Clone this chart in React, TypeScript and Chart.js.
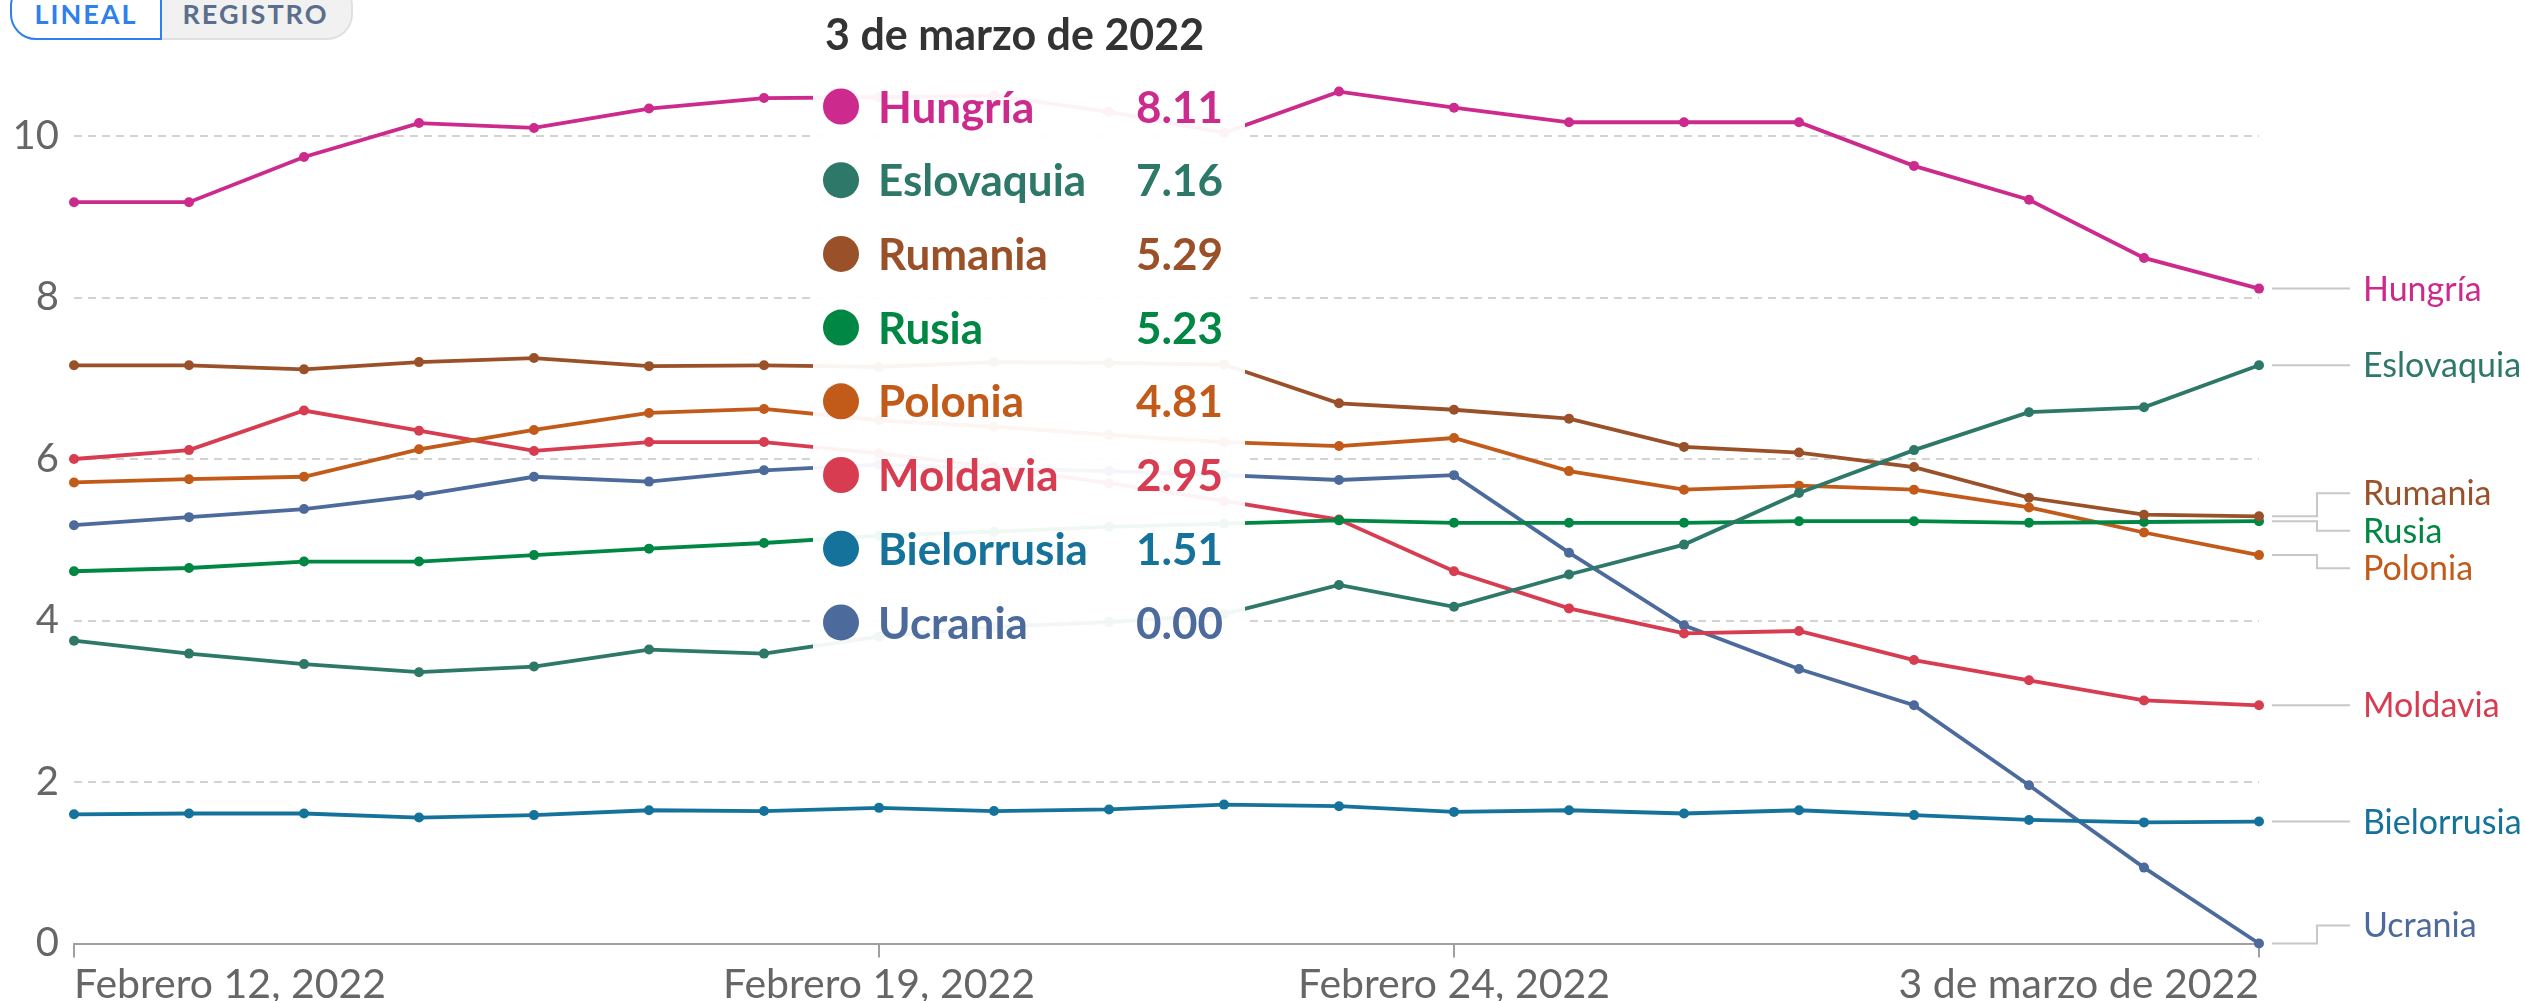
import React, { useEffect, useRef } from 'react';
import { Chart, registerables } from 'chart.js';

Chart.register(...registerables);

const dates = [
  '2022-02-12', '2022-02-13', '2022-02-14', '2022-02-15', '2022-02-16',
  '2022-02-17', '2022-02-18', '2022-02-19', '2022-02-20', '2022-02-21',
  '2022-02-22', '2022-02-23', '2022-02-24', '2022-02-25', '2022-02-26',
  '2022-02-27', '2022-02-28', '2022-03-01', '2022-03-02', '2022-03-03',
];
const tickIndices = [0, 7, 12, 19];
const tickLabels = ['Febrero 12, 2022', 'Febrero 19, 2022', 'Febrero 24, 2022', '3 de marzo de 2022'];
const yTicks = [0, 2, 4, 6, 8, 10];
const tooltipTitle = '3 de marzo de 2022';

const countries = ['Hungría', 'Eslovaquia', 'Rumania', 'Rusia', 'Polonia', 'Moldavia', 'Bielorrusia', 'Ucrania'];
const colors = ['#CC2A8C', '#2D7869', '#9A5129', '#008744', '#C25A1A', '#D73C50', '#15739B', '#4C6A9C'];

const hungria = [9.18, 9.18, 9.74, 10.16, 10.10, 10.34, 10.47, 10.48, 10.50, 10.30, 10.04, 10.55, 10.35, 10.17, 10.17, 10.17, 9.63, 9.21, 8.49, 8.11];
const eslovaquia = [3.75, 3.59, 3.46, 3.36, 3.43, 3.64, 3.59, 3.80, 3.92, 3.98, 4.08, 4.44, 4.17, 4.57, 4.94, 5.58, 6.11, 6.58, 6.64, 7.16];
const rumania = [7.16, 7.16, 7.11, 7.20, 7.25, 7.15, 7.16, 7.14, 7.20, 7.19, 7.17, 6.69, 6.61, 6.50, 6.15, 6.08, 5.90, 5.52, 5.31, 5.29];
const rusia = [4.61, 4.65, 4.73, 4.73, 4.81, 4.89, 4.96, 5.05, 5.10, 5.16, 5.20, 5.24, 5.21, 5.21, 5.21, 5.23, 5.23, 5.21, 5.22, 5.23];
const polonia = [5.71, 5.75, 5.78, 6.12, 6.36, 6.57, 6.62, 6.48, 6.40, 6.30, 6.21, 6.16, 6.26, 5.85, 5.62, 5.67, 5.62, 5.40, 5.09, 4.81];
const moldavia = [6.00, 6.11, 6.60, 6.35, 6.10, 6.21, 6.21, 6.07, 5.90, 5.70, 5.48, 5.25, 4.61, 4.15, 3.84, 3.87, 3.51, 3.26, 3.01, 2.95];
const bielorrusia = [1.60, 1.61, 1.61, 1.56, 1.59, 1.65, 1.64, 1.68, 1.64, 1.66, 1.72, 1.70, 1.63, 1.65, 1.61, 1.65, 1.59, 1.53, 1.50, 1.51];
const ucrania = [5.18, 5.28, 5.38, 5.55, 5.78, 5.72, 5.86, 5.93, 5.88, 5.85, 5.80, 5.74, 5.80, 4.84, 3.94, 3.40, 2.95, 1.96, 0.94, 0.00];

const seriesValues = [hungria, eslovaquia, rumania, rusia, polonia, moldavia, bielorrusia, ucrania];

const W = 2525;
const H = 1001;
const FONT = 'Lato, "Noto Sans", sans-serif';

const endLabelPlugin = {
  id: 'endLabels',
  afterDatasetsDraw(chart: any) {
    const { ctx, chartArea, scales } = chart;
    const y = scales.y;
    const lh = 37.5;
    const last = dates.length - 1;
    const items = countries
      .map((name, i) => {
        const py = y.getPixelForValue(seriesValues[i][last]);
        return { name, color: colors[i], py, ly: py };
      })
      .sort((a, b) => a.py - b.py);
    let groups: any[] = items.map((it) => ({ members: [it], center: it.py }));
    let changed = true;
    while (changed) {
      changed = false;
      for (let k = 0; k < groups.length - 1; k++) {
        const a = groups[k];
        const b = groups[k + 1];
        const aBottom = a.center + (a.members.length * lh) / 2;
        const bTop = b.center - (b.members.length * lh) / 2;
        if (aBottom > bTop) {
          const members = a.members.concat(b.members);
          const center = members.reduce((s: number, m: any) => s + m.py, 0) / members.length;
          groups.splice(k, 2, { members, center });
          changed = true;
          break;
        }
      }
    }
    groups.forEach((g) => {
      let top = g.center - (g.members.length * lh) / 2;
      const bottomLimit = chartArea.bottom + 0.75;
      if (top + g.members.length * lh > bottomLimit) top = bottomLimit - g.members.length * lh;
      g.members.forEach((m: any, j: number) => {
        m.ly = top + lh * j + lh / 2;
      });
    });
    const x0 = chartArea.right + 13;
    const bend = x0 + 45;
    const x1 = chartArea.right + 91;
    ctx.save();
    ctx.strokeStyle = '#c8c8c8';
    ctx.lineWidth = 2;
    items.forEach((m) => {
      ctx.beginPath();
      ctx.moveTo(x0, m.py);
      if (Math.abs(m.ly - m.py) > 1) {
        ctx.lineTo(bend, m.py);
        ctx.lineTo(bend, m.ly);
      }
      ctx.lineTo(x1, m.ly);
      ctx.stroke();
    });
    ctx.font = `34px ${FONT}`;
    ctx.textBaseline = 'middle';
    ctx.textAlign = 'left';
    items.forEach((m) => {
      ctx.fillStyle = m.color;
      ctx.fillText(m.name, chartArea.right + 104, m.ly + 1);
    });
    ctx.restore();
  },
};

const tooltipPlugin = {
  id: 'fixedTooltip',
  afterDraw(chart: any) {
    const { ctx } = chart;
    const last = dates.length - 1;
    ctx.save();
    ctx.fillStyle = 'rgba(255,255,255,0.94)';
    ctx.fillRect(813, 0, 432, 668);
    ctx.fillStyle = '#333';
    ctx.font = `bold 43px ${FONT}`;
    ctx.textBaseline = 'alphabetic';
    ctx.textAlign = 'left';
    ctx.fillText(tooltipTitle, 825, 50);
    const order = countries
      .map((name, i) => ({ name, color: colors[i], v: seriesValues[i][last] }))
      .sort((a, b) => b.v - a.v);
    order.forEach((row, k) => {
      const cy = 106.5 + 73.7 * k;
      ctx.fillStyle = row.color;
      ctx.beginPath();
      ctx.arc(841, cy, 18, 0, Math.PI * 2);
      ctx.fill();
      ctx.font = `bold 44px ${FONT}`;
      ctx.textBaseline = 'middle';
      ctx.textAlign = 'left';
      ctx.fillText(row.name, 878, cy + 2);
      ctx.textAlign = 'right';
      ctx.fillText(row.v.toFixed(2), 1223, cy + 2);
    });
    ctx.restore();
  },
};

export default function App() {
  const ref = useRef<HTMLCanvasElement>(null);
  useEffect(() => {
    document.body.style.margin = '0';
    document.body.style.overflow = 'hidden';
    const canvas = ref.current;
    if (!canvas) return;
    const yMax = 10.6;
    const chart = new Chart(canvas, {
      type: 'line',
      data: {
        labels: dates,
        datasets: countries.map((name, i) => ({
          label: name,
          data: seriesValues[i],
          borderColor: colors[i],
          backgroundColor: colors[i],
          pointBackgroundColor: colors[i],
          pointBorderColor: colors[i],
          borderWidth: 3.8,
          pointRadius: 5,
          pointHoverRadius: 5,
          pointBorderWidth: 0,
          tension: 0,
          clip: false as any,
        })),
      },
      options: {
        responsive: false,
        animation: false,
        events: [],
        layout: { padding: { left: 0, right: W - 2259, top: 943.5 - 80.75 * yMax, bottom: 0 } },
        plugins: {
          legend: { display: false },
          tooltip: { enabled: false },
        },
        scales: {
          x: {
            type: 'category',
            offset: false,
            afterBuildTicks: (scale: any) => {
              scale.ticks = tickIndices.map((v) => ({ value: v }));
            },
            afterFit: (scale: any) => {
              scale.height = H - 943.5;
            },
            grid: {
              display: true,
              drawOnChartArea: false,
              drawTicks: true,
              tickLength: 14,
              color: '#a0a0a0',
              lineWidth: 2,
              offset: false,
            },
            border: { display: true, color: '#a0a0a0', width: 2 },
            ticks: {
              autoSkip: false,
              maxRotation: 0,
              minRotation: 0,
              align: 'inner',
              padding: 3,
              color: '#666',
              font: { family: FONT, size: 41 },
              callback: (value: any) => {
                const idx = tickIndices.indexOf(Number(value));
                return idx >= 0 ? tickLabels[idx] : '';
              },
            },
          },
          y: {
            type: 'linear',
            min: 0,
            max: yMax,
            afterBuildTicks: (scale: any) => {
              scale.ticks = yTicks.map((v) => ({ value: v }));
            },
            afterFit: (scale: any) => {
              scale.width = 74;
            },
            grid: {
              drawTicks: false,
              color: (c: any) => (c.tick && c.tick.value === 0 ? 'rgba(0,0,0,0)' : '#d2d2d2'),
              lineWidth: 2,
            },
            border: { display: false, dash: [8, 6] },
            ticks: {
              padding: 15,
              color: '#666',
              font: { family: FONT, size: 40 },
              includeBounds: false,
            },
          },
        },
      } as any,
      plugins: [endLabelPlugin, tooltipPlugin],
    });
    return () => chart.destroy();
  }, []);

  const btnBase: React.CSSProperties = {
    position: 'absolute',
    top: -20,
    height: 60,
    boxSizing: 'border-box',
    display: 'flex',
    alignItems: 'flex-end',
    justifyContent: 'center',
    paddingBottom: 9,
    lineHeight: '30px',
    fontFamily: FONT,
    fontWeight: 'bold',
    fontSize: 27,
    letterSpacing: 2,
  };

  return (
    <div style={{ position: 'relative', width: W, height: H, overflow: 'hidden', background: '#fff' }}>
      <canvas ref={ref} width={W} height={H} style={{ position: 'absolute', left: 0, top: 0, width: W, height: H }} />
      <div
        style={{
          ...btnBase,
          left: 10,
          width: 152,
          color: '#2F80ED',
          background: '#fff',
          border: '2px solid #2F80ED',
          borderRadius: '26px 0 0 26px',
          zIndex: 2,
        }}
      >
        LINEAL
      </div>
      <div
        style={{
          ...btnBase,
          left: 160,
          width: 193,
          color: '#5A6F8C',
          background: '#f1f1f1',
          border: '2px solid #e0e0e0',
          borderLeft: 'none',
          borderRadius: '0 26px 26px 0',
        }}
      >
        REGISTRO
      </div>
    </div>
  );
}
